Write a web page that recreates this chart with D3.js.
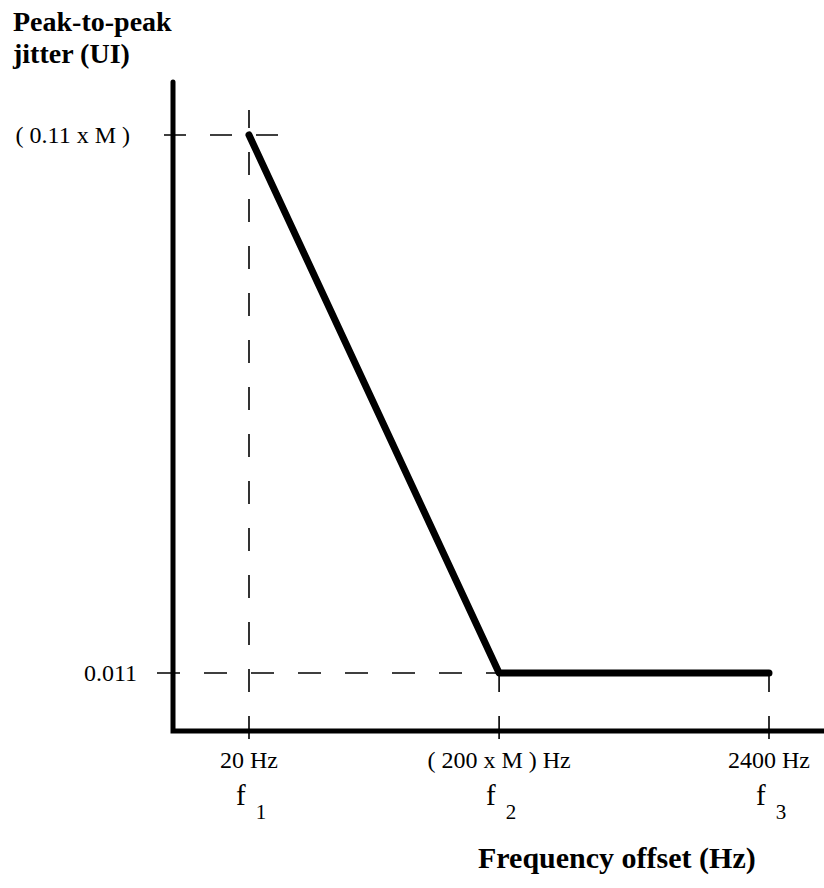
<!DOCTYPE html>
<html>
<head>
<meta charset="utf-8">
<script src="https://cdn.jsdelivr.net/npm/d3@7"></script>
<style>
  body { margin: 0; background: #fff; }
  svg { display: block; font-family: "Liberation Serif", "Times New Roman", serif; }
</style>
</head>
<body>
<svg></svg>
<script>
// jitter tolerance mask (schematic)
var freqValues = [20, 200, 2400];
var freqLabels = ["20 Hz", "( 200 x M ) Hz", "2400 Hz"];
var freqNames = ["1", "2", "3"];
var jitterValues = [0.11, 0.011, 0.011];
var jitterTicks = [0.11, 0.011];
var jitterLabels = ["( 0.11 x M )", "0.011"];

var W = 824, H = 888;
var axisX = 173, axisTop = 82, axisY = 731;

var svg = d3.select("svg")
    .attr("width", W)
    .attr("height", H);

var x = d3.scaleLog().domain([20, 2400]).range([249, 769]);
var y = d3.scaleLinear().domain([0.011, 0.11]).range([673, 135]);

// dashed guide lines
svg.append("line")
    .attr("x1", axisX - 9).attr("x2", x(20) + 31)
    .attr("y1", y(0.11)).attr("y2", y(0.11))
    .attr("stroke", "black").attr("stroke-width", 1.6)
    .attr("stroke-dasharray", "22,24");

svg.append("line")
    .attr("x1", axisX - 16).attr("x2", x(200))
    .attr("y1", y(0.011)).attr("y2", y(0.011))
    .attr("stroke", "black").attr("stroke-width", 1.6)
    .attr("stroke-dasharray", "23,24");

// vertical guides, drawn bottom-up so the dashes line up at the axis
freqValues.forEach(function (f, i) {
    svg.append("line")
        .attr("x1", x(f)).attr("x2", x(f))
        .attr("y1", axisY + 8)
        .attr("y2", i == 0 ? axisTop + 28 : y(jitterValues[i]))
        .attr("stroke", "black").attr("stroke-width", 1.6)
        .attr("stroke-dasharray", "23,24");
});

// axes
svg.append("path")
    .attr("d", "M" + axisX + "," + axisTop + "V" + axisY + "H" + W)
    .attr("fill", "none")
    .attr("stroke", "black")
    .attr("stroke-width", 5)
    .attr("stroke-linecap", "round")
    .attr("stroke-linejoin", "miter");

// the mask itself
var line = d3.line()
    .x(function (d, i) { return x(freqValues[i]); })
    .y(function (d) { return y(d); });

svg.append("path")
    .datum(jitterValues)
    .attr("d", line)
    .attr("fill", "none")
    .attr("stroke", "black")
    .attr("stroke-width", 7)
    .attr("stroke-linecap", "round")
    .attr("stroke-linejoin", "round");

// y labels
svg.selectAll(".ylab")
    .data(jitterTicks)
    .enter().append("text")
    .attr("class", "ylab")
    .attr("x", function (d, i) { return i == 0 ? 130 : 137; })
    .attr("y", function (d) { return y(d) + 8; })
    .attr("text-anchor", "end")
    .attr("font-size", 24)
    .text(function (d, i) { return jitterLabels[i]; });

// x labels
svg.selectAll(".xlab")
    .data(freqValues)
    .enter().append("text")
    .attr("class", "xlab")
    .attr("x", function (d) { return x(d); })
    .attr("y", 768)
    .attr("text-anchor", "middle")
    .attr("font-size", 24)
    .text(function (d, i) { return freqLabels[i]; });

var fl = svg.selectAll(".fname")
    .data(freqValues)
    .enter().append("text")
    .attr("class", "fname")
    .attr("x", function (d) { return x(d) - 13; })
    .attr("y", 805)
    .attr("font-size", 29);
fl.append("tspan").text("f");
fl.append("tspan")
    .attr("dx", 10)
    .attr("dy", 14)
    .attr("font-size", 21)
    .text(function (d, i) { return freqNames[i]; });

// axis titles
svg.append("text")
    .attr("x", 13).attr("y", 31)
    .attr("font-size", 28)
    .attr("font-weight", "bold")
    .text("Peak-to-peak");
svg.append("text")
    .attr("x", 13).attr("y", 63)
    .attr("font-size", 28)
    .attr("font-weight", "bold")
    .text("jitter (UI)");

svg.append("text")
    .attr("x", 478)
    .attr("y", 868)
    .attr("font-size", 30)
    .attr("font-weight", "bold")
    .text("Frequency offset (Hz)");
</script>
</body>
</html>
